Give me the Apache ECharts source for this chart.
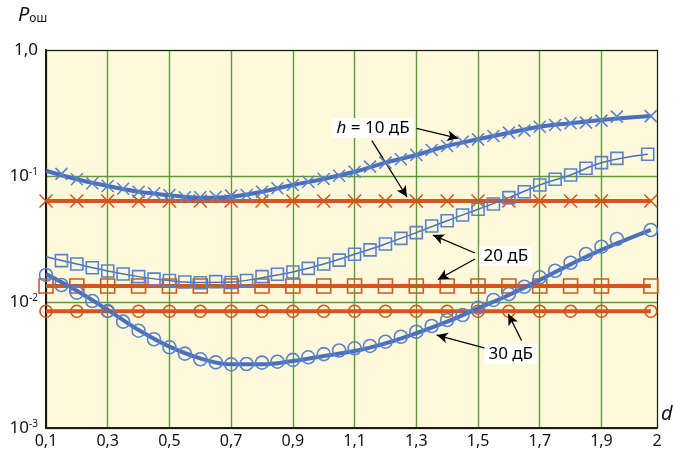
<!DOCTYPE html>
<html><head><meta charset="utf-8">
<script src="https://cdn.jsdelivr.net/npm/echarts@6/dist/echarts.min.js"></script>
<style>html,body{margin:0;padding:0;background:#fff}#c{width:673px;height:450px}</style>
</head><body><div id="c"></div>
<script>
// ---- tick labels ----
const xTickLabels = ['0,1','0,3','0,5','0,7','0,9','1,1','1,3','1,5','1,7','1,9','2'];
const yTickLabels = {'0':'1,0','-1':'10{s|-1}','-2':'10{s|-2}','-3':'10{s|-3}'};

// ---- h = 10 dB (crosses, thick line) ----
const h10MarkD = [0.15,0.2,0.25,0.3,0.35,0.4,0.45,0.5,0.55,0.6,0.65,0.7,0.75,0.8,0.85,0.9,0.95,1.0,1.05,1.1,1.15,1.2,1.25,1.3,1.35,1.4,1.45,1.5,1.55,1.6,1.65,1.7,1.75,1.8,1.85,1.9,1.95,2.06];
const h10MarkP = [0.104,0.0942,0.0875,0.0833,0.0793,0.0750,0.0729,0.0707,0.0678,0.0678,0.0685,0.0698,0.0707,0.0750,0.0799,0.0849,0.0901,0.0947,0.1005,0.108,0.1186,0.1276,0.1357,0.1468,0.1608,0.173,0.187,0.1955,0.2076,0.2207,0.229,0.246,0.254,0.262,0.265,0.275,0.296,0.299];
const h10LineD = [0.1,0.2,0.3,0.4,0.5,0.6,0.7,0.8,0.9,1.0,1.1,1.2,1.3,1.4,1.5,1.6,1.7,1.8,1.9,2.06];
const h10LineP = [0.110,0.0942,0.0833,0.0750,0.0705,0.0672,0.0685,0.0750,0.0849,0.0947,0.108,0.1276,0.1468,0.173,0.1955,0.2207,0.246,0.262,0.278,0.299];

// ---- h = 20 dB (squares, thin line) ----
const h20MarkD = [0.15,0.2,0.25,0.3,0.35,0.4,0.45,0.5,0.55,0.6,0.65,0.7,0.75,0.8,0.85,0.9,0.95,1.0,1.05,1.1,1.15,1.2,1.25,1.3,1.35,1.4,1.45,1.5,1.55,1.6,1.65,1.7,1.75,1.8,1.85,1.9,1.95,2.05];
const h20MarkP = [0.0213,0.0200,0.0187,0.0176,0.0167,0.0159,0.0152,0.0148,0.0144,0.0142,0.0145,0.0143,0.0148,0.0159,0.0166,0.0173,0.0185,0.0200,0.0215,0.0239,0.0259,0.0289,0.0320,0.0355,0.0401,0.0442,0.0490,0.0544,0.0600,0.0673,0.0750,0.0849,0.0942,0.1019,0.1151,0.1276,0.138,0.1487];
const h20LineD = [0.1,0.2,0.3,0.4,0.5,0.6,0.7,0.8,0.9,1.0,1.1,1.2,1.3,1.4,1.5,1.6,1.7,1.8,1.9,2.05];
const h20LineP = [0.0229,0.0200,0.0176,0.0159,0.0148,0.0143,0.0144,0.0156,0.0173,0.0200,0.0239,0.0289,0.0355,0.0442,0.0544,0.0673,0.0849,0.1019,0.1276,0.1487];

// ---- h = 30 dB (circles, thick line) ----
const h30MarkD = [0.1,0.15,0.2,0.25,0.3,0.35,0.4,0.45,0.5,0.55,0.6,0.65,0.7,0.75,0.8,0.85,0.9,0.95,1.0,1.05,1.1,1.15,1.2,1.25,1.3,1.35,1.4,1.45,1.5,1.55,1.6,1.65,1.7,1.75,1.8,1.85,1.9,1.95,2.06];
const h30MarkP = [0.0164,0.01365,0.01186,0.01019,0.00849,0.00698,0.00592,0.00506,0.00437,0.00389,0.00351,0.00332,0.00320,0.00322,0.00330,0.00336,0.00347,0.00364,0.00386,0.00412,0.00429,0.00448,0.00484,0.00530,0.00581,0.00645,0.00720,0.00788,0.00901,0.01038,0.01157,0.01321,0.01570,0.01771,0.02050,0.02405,0.02748,0.03162,0.03728];
const h30LineD = [0.1,0.2,0.3,0.4,0.5,0.6,0.7,0.8,0.9,1.0,1.1,1.2,1.3,1.4,1.5,1.6,1.7,1.8,1.9,2.06];
const h30LineP = [0.01668,0.01230,0.00865,0.00600,0.00442,0.00357,0.00320,0.00320,0.00340,0.00373,0.00408,0.00470,0.00565,0.00698,0.00891,0.01137,0.01496,0.0199,0.0259,0.0373];

// ---- reference (orange) levels ----
const refD = [0.1,0.2,0.3,0.4,0.5,0.6,0.7,0.8,0.9,1.0,1.1,1.2,1.3,1.4,1.5,1.6,1.7,1.8,1.9,2.06];
const ref10P = 0.0633;
const ref20P = 0.0134;
const ref30P = 0.00844;

// ---- annotations: [label text, d, P] and arrows [d1,P1,d2,P2] ----
const labels = [['{i|h} = 10 дБ',1.16,0.2404],['20 дБ',1.59,0.02317],['30 дБ',1.606,0.00387]];
const arrows = [[1.301,0.239,1.436,0.199],[1.156,0.1906,1.27,0.0681],[1.49,0.02449,1.354,0.0340],[1.49,0.02194,1.37,0.0151],[1.532,0.00424,1.366,0.00547],[1.641,0.00495,1.598,0.00803]];

const BLUE = '#4a6fbd', BLUE_M = '#5a82cc', ORANGE = '#d4561c', GREEN = '#5f9838';
const FONT = 'Noto Sans';
const XPATH = 'path://M0,0L10,10M10,0L0,10';
const zip = (a,b)=>a.map((v,i)=>[v,b[i]]);

function lineS(d,p,w){return {type:'line',data:zip(d,p),smooth:0.4,showSymbol:false,symbol:'none',
  lineStyle:{color:BLUE,width:w},z:4,silent:true};}
function markS(d,p,sym,size){return {type:'scatter',data:zip(d,p),symbol:sym,symbolSize:size,symbolKeepAspect:true,
  itemStyle:{color:'rgba(0,0,0,0)',borderColor:BLUE_M,borderWidth:1.6,opacity:1},z:5,silent:true};}
function refS(p,sym,size,extra){const s={type:'line',data:refD.map(d=>[d,p]),symbol:sym,symbolSize:size,showSymbol:true,symbolKeepAspect:true,
  lineStyle:{color:ORANGE,width:4},itemStyle:{color:'rgba(0,0,0,0)',borderColor:ORANGE,borderWidth:1.6},z:3,silent:true};
  return Object.assign(s,extra||{});}

const chart = echarts.init(document.getElementById('c'),null,{renderer:'canvas'});
chart.setOption({
  animation:false,
  backgroundColor:'#fff',
  grid:{left:46,right:16,top:50,bottom:22,show:true,backgroundColor:'#fef9da',borderWidth:0},
  xAxis:[{type:'value',min:0.1,max:2.08,interval:0.2,
    axisLine:{lineStyle:{color:'#1a1a1a',width:2}},axisTick:{show:false},
    splitLine:{show:true,lineStyle:{color:GREEN,width:1.4}},
    axisLabel:{fontFamily:FONT,fontSize:16,color:'#111',margin:5,showMinLabel:true,showMaxLabel:true,
      formatter:(v,i)=>xTickLabels[i]}},
   {type:'value',position:'top',min:0.1,max:2.08,axisLine:{show:true,onZero:false,lineStyle:{color:'#1a1a1a',width:1}},
    axisTick:{show:false},axisLabel:{show:false},splitLine:{show:false}}],
  yAxis:[{type:'log',logBase:10,min:0.001,max:1,
    axisLine:{show:true,lineStyle:{color:'#1a1a1a',width:2}},axisTick:{show:false},
    splitLine:{show:true,lineStyle:{color:GREEN,width:1.4}},
    axisLabel:{fontFamily:FONT,fontSize:17,color:'#111',margin:8,
      formatter:v=>yTickLabels[String(Math.round(Math.log10(v)))]||'',
      rich:{s:{fontFamily:FONT,fontSize:10,color:'#111',verticalAlign:'top',padding:[0,0,8,0]}}}},
   {type:'log',logBase:10,min:0.001,max:1,position:'right',
    axisLine:{show:true,onZero:false,lineStyle:{color:'#1a1a1a',width:1}},axisTick:{show:false},axisLabel:{show:false},splitLine:{show:false}}],
  graphic:[
    {type:'text',left:18,top:5,style:{text:'{p|P}{s|ош}',rich:{
      p:{fontFamily:FONT,fontSize:20,fontStyle:'italic',fill:'#111',verticalAlign:'bottom'},
      s:{fontFamily:FONT,fontSize:12,fill:'#111',padding:[8,0,0,0],verticalAlign:'bottom'}}}},
    {type:'text',left:661,top:404,style:{text:'d',fontFamily:FONT,fontSize:20,fontStyle:'italic',fill:'#111'}}
  ],
  series:[
    refS(ref10P,XPATH,13),
    refS(ref20P,'rect',14),
    refS(ref30P,'circle',12,{
      markLine:{silent:true,symbol:['none','arrow'],symbolSize:[8,11],
        lineStyle:{color:'#000',width:1.3,type:'solid'},label:{show:false},
        data:arrows.map(a=>[{coord:[a[0],a[1]]},{coord:[a[2],a[3]]}])},
      markPoint:{silent:true,symbol:'rect',symbolSize:1,itemStyle:{color:'rgba(0,0,0,0)'},
        label:{show:true,position:'inside',fontFamily:FONT,fontSize:17,color:'#000',backgroundColor:'#fff',padding:[2,4,1,4],
          rich:{i:{fontFamily:FONT,fontSize:17,fontStyle:'italic',color:'#000'}}},
        data:labels.map(l=>({coord:[l[1],l[2]],label:{formatter:l[0]}}))}
    }),
    lineS(h10LineD,h10LineP,4),
    markS(h10MarkD,h10MarkP,XPATH,12),
    lineS(h20LineD,h20LineP,1.5),
    markS(h20MarkD,h20MarkP,'rect',12),
    lineS(h30LineD,h30LineP,4),
    markS(h30MarkD,h30MarkP,'circle',13)
  ]
});
</script></body></html>
